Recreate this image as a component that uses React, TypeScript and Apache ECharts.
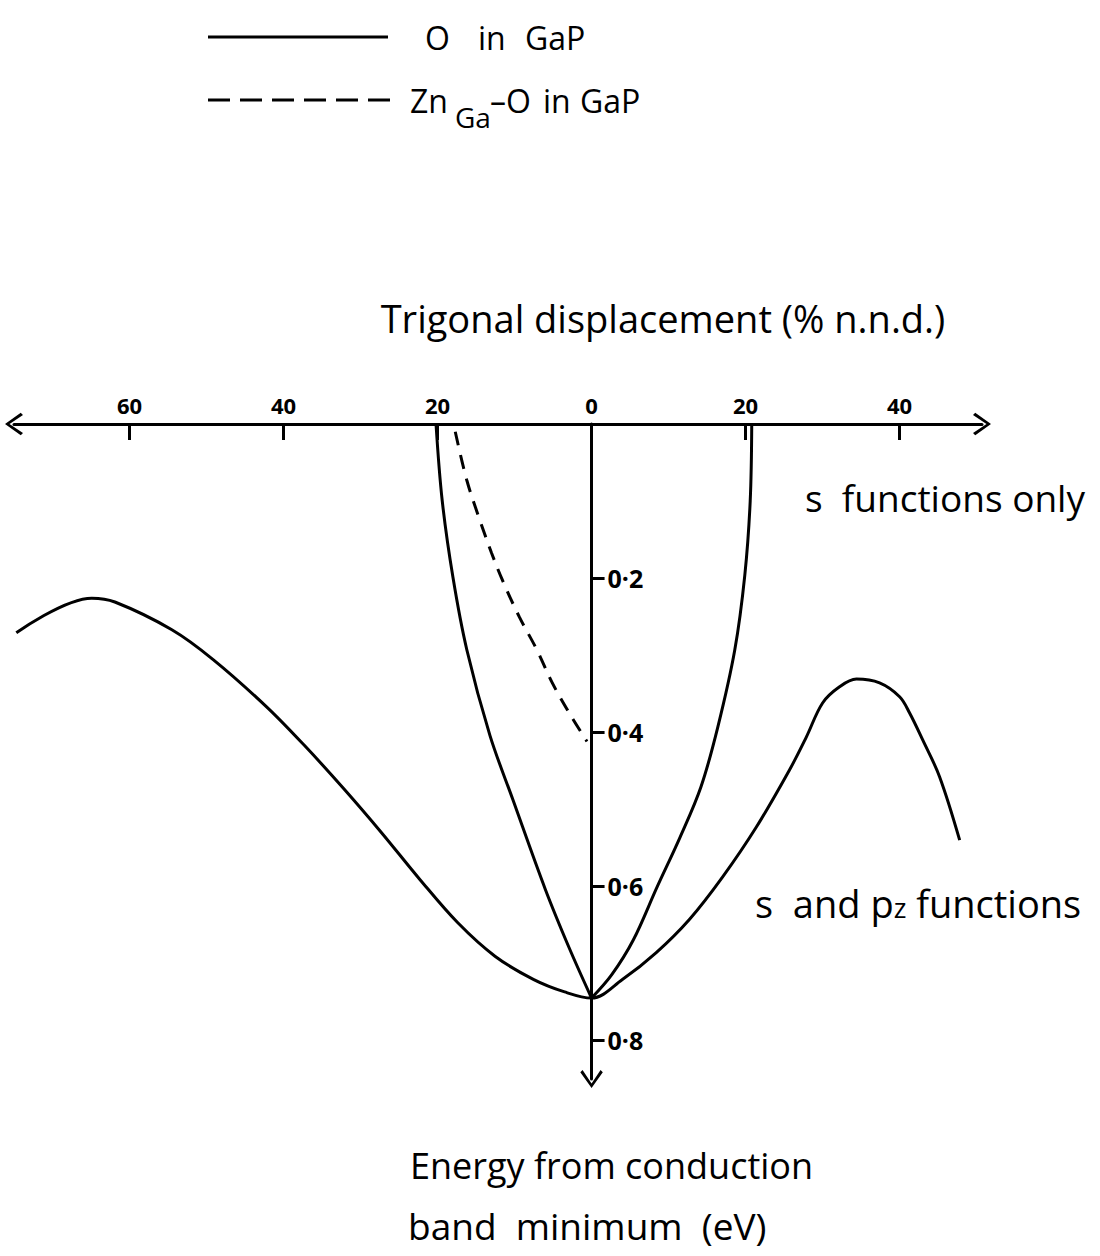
import React, { useEffect, useRef } from 'react';
import * as echarts from 'echarts';

// Tick positions (signed displacement; labels show magnitude)
const xTickValues = [-60, -40, -20, 0, 20, 40];
const yTickValues = [0.2, 0.4, 0.6, 0.8];

// O in GaP, s functions only — branch on the negative side, down to the minimum
const sOnlyLeftDisp = [-20.2, -19.4, -18.0, -16.2, -13.2, -10.2, -6.0, -2.9, 0];
const sOnlyLeftEnergy = [0.0, 0.099, 0.199, 0.293, 0.404, 0.488, 0.604, 0.68, 0.745];
// O in GaP, s functions only — branch on the positive side, from the minimum
const sOnlyRightDisp = [0, 2.6, 5.4, 8.5, 11.5, 14.2, 16.4, 18.6, 19.9, 20.6, 20.8];
const sOnlyRightEnergy = [0.745, 0.715, 0.67, 0.601, 0.536, 0.471, 0.393, 0.293, 0.196, 0.1, 0.0];

// O in GaP, s and pz functions
const spDisp = [-74.7, -64.9, -61.9, -54.5, -49.1, -42.2, -37.3, -32.2, -27.3, -22.3, -17.4, -12.5, -7.5, -3.5, 0, 4.0, 8.4, 12.7, 17.0, 21.4, 25.7, 27.9, 30.0, 32.2, 34.4, 37.4, 40.0, 41.3, 43.0, 45.2, 47.8];
const spEnergy = [0.271, 0.226, 0.231, 0.267, 0.306, 0.367, 0.417, 0.473, 0.53, 0.591, 0.647, 0.691, 0.721, 0.737, 0.745, 0.721, 0.686, 0.643, 0.588, 0.523, 0.449, 0.406, 0.362, 0.341, 0.331, 0.336, 0.354, 0.375, 0.41, 0.458, 0.54];

// Zn_Ga–O in GaP, s functions only
const znDisp = [-17.7, -16.2, -14.5, -13.0, -11.6, -9.4, -7.1, -5.1, -2.9, -0.6];
const znEnergy = [0.01, 0.073, 0.125, 0.167, 0.202, 0.25, 0.293, 0.336, 0.375, 0.412];

const zip = (xs: number[], ys: number[]) => xs.map((x, i) => [x, ys[i]]);

const FONT = '"Open Sans", "DejaVu Sans", sans-serif';
const INK = '#000';
// open chevron arrowhead, drawn pointing up
const ARROW = 'path://M10,0 L20,14 L18,16 L10,4 L2,16 L0,14 Z';

const X_MIN = -75;
const X_MAX = 50.7;
const GRID_LEFT = 14;
const GRID_WIDTH = 968;

const word = (text: string, x: number, y: number, fontSize = 32) => ({
  type: 'text',
  x,
  y,
  style: { text, fontSize, fontFamily: FONT, fill: INK, verticalAlign: 'middle' },
});

export default function App() {
  const ref = useRef<HTMLDivElement>(null);

  useEffect(() => {
    document.body.style.margin = '0';
    const chart = echarts.init(ref.current!, null, { renderer: 'svg' });

    const lineSeries = (name: string, data: number[][], dashed = false) => ({
      type: 'line',
      name,
      data,
      smooth: 0.35,
      symbol: 'none',
      lineStyle: { color: INK, width: 3, type: dashed ? [14, 10] : 'solid' },
      z: 3,
    });

    // place the energy axis on the zero of the displacement axis
    const zeroOffset = -((0 - X_MIN) / (X_MAX - X_MIN)) * GRID_WIDTH;

    chart.setOption({
      animation: false,
      backgroundColor: '#fff',
      grid: { left: GRID_LEFT, top: 424, width: GRID_WIDTH, height: 655, outerBoundsMode: 'none' },
      xAxis: {
        type: 'value',
        position: 'top',
        min: X_MIN,
        max: X_MAX,
        axisLine: {
          onZero: true,
          symbol: [ARROW, ARROW],
          symbolSize: [26, 18],
          lineStyle: { color: INK, width: 3 },
        },
        axisTick: { show: true, inside: true, length: 16, customValues: xTickValues, lineStyle: { color: INK, width: 3 } },
        axisLabel: {
          customValues: xTickValues,
          formatter: (v: number) => String(Math.abs(v)),
          margin: 8,
          color: INK,
          fontSize: 22,
          fontWeight: 'bold',
          fontFamily: FONT,
        },
        splitLine: { show: false },
      },
      yAxis: {
        type: 'value',
        inverse: true,
        min: 0,
        max: 0.85,
        offset: zeroOffset,
        axisLine: {
          onZero: false,
          symbol: [ARROW, 'none'],
          symbolSize: [26, 18],
          lineStyle: { color: INK, width: 3 },
        },
        axisTick: { show: true, inside: true, length: 13, customValues: yTickValues, lineStyle: { color: INK, width: 3 } },
        axisLabel: {
          inside: true,
          customValues: yTickValues,
          formatter: (v: number) => v.toFixed(1).replace('.', '·'),
          margin: 16,
          color: INK,
          fontSize: 25,
          fontWeight: 'bold',
          fontFamily: FONT,
        },
        splitLine: { show: false },
      },
      series: [
        lineSeries('O in GaP', zip(sOnlyLeftDisp, sOnlyLeftEnergy)),
        lineSeries('O in GaP', zip(sOnlyRightDisp, sOnlyRightEnergy)),
        lineSeries('O in GaP', zip(spDisp, spEnergy)),
        lineSeries('ZnGa–O in GaP', zip(znDisp, znEnergy), true),
      ],
      graphic: [
        // key
        { type: 'line', shape: { x1: 208, y1: 37, x2: 388, y2: 37 }, style: { stroke: INK, lineWidth: 3 } },
        word('O', 425, 37),
        word('in', 478, 37),
        word('GaP', 525, 37),
        { type: 'line', shape: { x1: 208, y1: 100, x2: 392, y2: 100 }, style: { stroke: INK, lineWidth: 3, lineDash: [22, 10] } },
        word('Zn', 410, 100),
        word('Ga', 455, 117, 28),
        word('–O', 490, 100),
        word('in', 543, 100),
        word('GaP', 580, 100),
        // axis titles
        { type: 'text', x: 663, y: 318, style: { text: 'Trigonal displacement (% n.n.d.)', fontSize: 38, fontFamily: FONT, fill: INK, align: 'center', verticalAlign: 'middle' } },
        word('Energy from conduction', 410, 1165, 36),
        word('band  minimum  (eV)', 408, 1225, 37),
        // curve labels
        word('s  functions only', 805, 497, 37),
        {
          type: 'text', x: 755, y: 903,
          style: {
            text: '{a|s  and p}{b|z}{a| functions}',
            fontFamily: FONT, fill: INK, verticalAlign: 'middle',
            rich: {
              a: { fontSize: 38, fontFamily: FONT, fill: INK },
              b: { fontSize: 27, fontFamily: FONT, fill: INK, padding: [8, 0, 0, 0] },
            },
          },
        },
      ],
    });

    return () => chart.dispose();
  }, []);

  return <div ref={ref} style={{ width: 1100, height: 1256 }} />;
}
